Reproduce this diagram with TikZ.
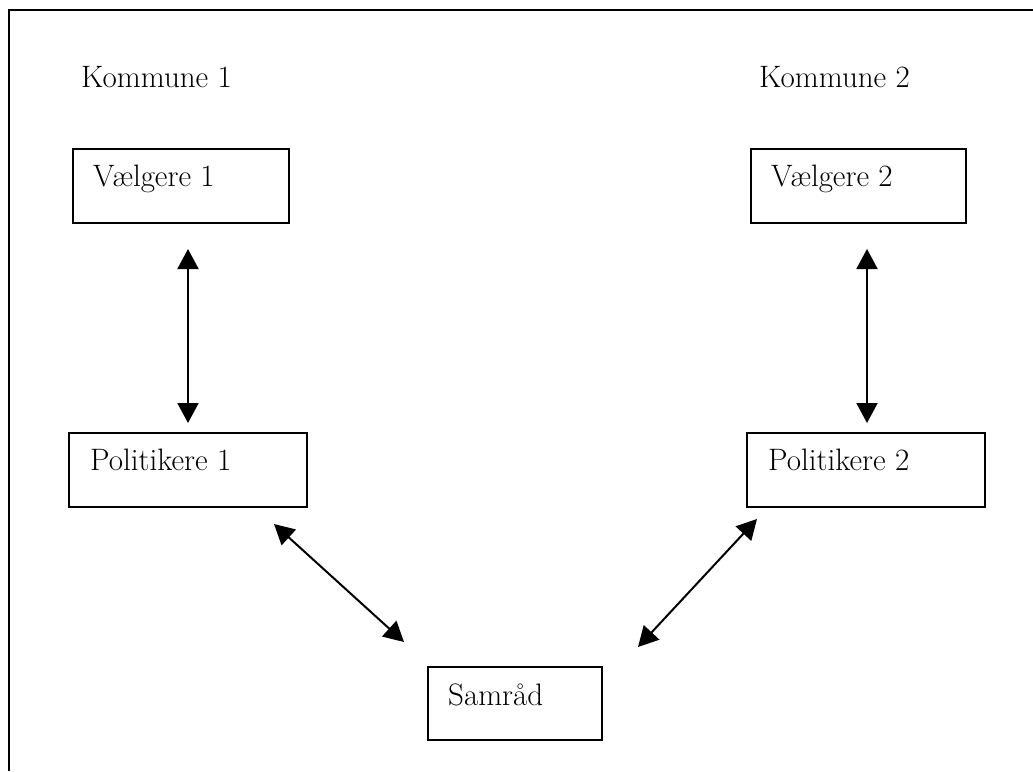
\documentclass[tikz,border=0pt]{standalone}
\usetikzlibrary{arrows.meta,calc}
\tikzset{
  box/.style={draw, line width=2pt, inner sep=0pt, anchor=north west},
  txt/.style={inner sep=0pt, anchor=base west, font=\fontsize{31}{37}\selectfont},
  arr/.style={line width=2pt, {Triangle[length=20pt,width=21pt]}-{Triangle[length=20pt,width=21pt]}},
  frame/.style={line width=2.4pt}
}
\begin{document}
\begin{tikzpicture}[x=1pt,y=-1pt]
\useasboundingbox (0,0) rectangle (1033,771);
% frame (top and left only)
\coordinate (ftr) at (1033,10);
\coordinate (ftl) at (9,10);
\coordinate (fbl) at (9,771);
\draw[frame] (ftr) -- (ftl) -- (fbl);
% headings
\node[txt] (k1) at (81,87) {Kommune 1};
\node[txt] (k2) at (759,87) {Kommune 2};
% boxes
\node[box, minimum width=216pt, minimum height=74pt] (v1) at (72,148) {};
\node[box, minimum width=215pt, minimum height=74pt] (v2) at (750,148) {};
\node[box, minimum width=238pt, minimum height=74pt] (p1) at (68,432) {};
\node[box, minimum width=238pt, minimum height=74pt] (p2) at (746,432) {};
\node[box, minimum width=174pt, minimum height=73pt] (s) at (427,666) {};
% box texts
\node[txt] (v1t) at ($(v1.north west)+(21,38)$) {Vælgere 1};
\node[txt] (v2t) at ($(v2.north west)+(21,38)$) {Vælgere 2};
\node[txt] (p1t) at ($(p1.north west)+(22,38)$) {Politikere 1};
\node[txt] (p2t) at ($(p2.north west)+(22,38)$) {Politikere 2};
\node[txt] (st) at ($(s.north west)+(21,39)$) {Samråd};
% connectors
\coordinate (a1) at ($(v1.south west)+(116,25)$);
\coordinate (b1) at ($(p1.north west)+(120,-9)$);
\draw[arr] (a1) -- (b1);
\coordinate (a2) at ($(v2.south west)+(117,25)$);
\coordinate (b2) at ($(p2.north west)+(121,-9)$);
\draw[arr] (a2) -- (b2);
\coordinate (c1) at ($(p1.south east)+(-34,16)$);
\coordinate (d1) at ($(s.north west)+(-23,-24)$);
\draw[arr] (c1) -- (d1);
\coordinate (c2) at ($(p2.south west)+(11,11)$);
\coordinate (d2) at ($(s.north east)+(35,-19)$);
\draw[arr] (c2) -- (d2);
\end{tikzpicture}
\end{document}
